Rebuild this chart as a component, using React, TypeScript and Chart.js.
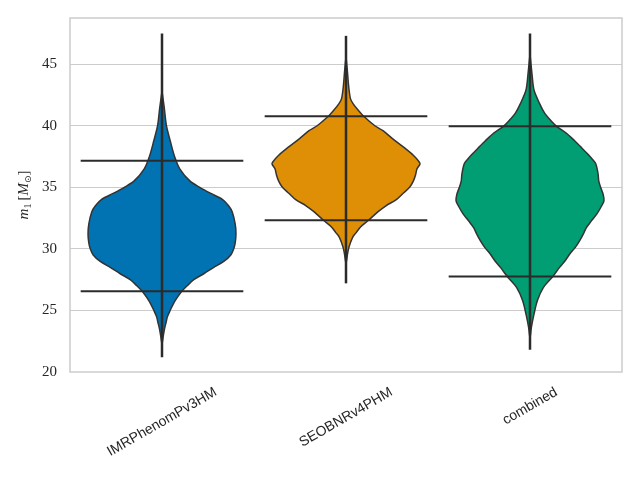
import React, { useEffect, useRef } from 'react';
import Chart from 'chart.js/auto';

// ---- data ----
const categories = ['IMRPhenomPv3HM', 'SEOBNRv4PHM', 'combined'];
const violinColors = ['#0173B2', '#DE8F05', '#029E73'];

// violin density profiles (m1 grid, relative density, max = 1)
const imrM1 = [42.8, 41.5, 40.0, 38.8, 37.5, 36.5, 35.5, 35.0, 34.5, 34.0, 33.5, 33.0, 32.0, 31.2, 30.5, 30.0, 29.5, 29.0, 28.5, 28.0, 27.5, 27.0, 26.5, 26.0, 25.5, 25.0, 24.5, 24.0, 23.5, 22.8, 22.3];
const imrDensity = [0, 0.03, 0.06, 0.11, 0.17, 0.24, 0.38, 0.51, 0.66, 0.82, 0.9, 0.95, 0.99, 1.0, 0.99, 0.97, 0.93, 0.84, 0.7, 0.57, 0.43, 0.34, 0.26, 0.2, 0.15, 0.11, 0.074, 0.054, 0.034, 0.014, 0];

const seobM1 = [45.6, 44.5, 43.2, 42.2, 41.8, 41.3, 40.77, 40.0, 39.6, 39.0, 38.3, 37.6, 37.06, 36.9, 36.5, 36.0, 35.5, 35.0, 34.5, 34.0, 33.5, 33.0, 32.3, 31.8, 31.3, 31.0, 30.5, 30.0, 29.5, 28.8];
const seobDensity = [0, 0.018, 0.036, 0.06, 0.095, 0.16, 0.24, 0.39, 0.5, 0.62, 0.77, 0.91, 0.99, 1.0, 0.96, 0.94, 0.91, 0.86, 0.77, 0.68, 0.54, 0.43, 0.3, 0.2, 0.135, 0.095, 0.06, 0.034, 0.018, 0];

const combM1 = [45.8, 44.2, 42.9, 41.8, 41.0, 40.5, 39.95, 39.4, 38.8, 38.2, 37.7, 37.3, 36.9, 36.1, 35.5, 35.0, 34.4, 33.9, 33.4, 32.8, 32.2, 31.7, 31.2, 30.65, 30.1, 29.6, 29.0, 28.5, 27.7, 26.85, 25.8, 24.7, 23.6, 22.8];
const combDensity = [0, 0.027, 0.054, 0.13, 0.2, 0.27, 0.36, 0.49, 0.6, 0.7, 0.78, 0.84, 0.89, 0.92, 0.93, 0.955, 0.99, 1.0, 0.96, 0.9, 0.82, 0.76, 0.72, 0.67, 0.61, 0.54, 0.47, 0.4, 0.3, 0.18, 0.1, 0.054, 0.018, 0];

const q05 = [26.55, 32.32, 27.76];
const q95 = [37.15, 40.77, 39.96];
const m1Min = [21.2, 27.2, 21.8];
const m1Max = [47.5, 47.3, 47.5];
const yTicks = [20, 25, 30, 35, 40, 45];

const profiles = [
  { m1: imrM1, d: imrDensity },
  { m1: seobM1, d: seobDensity },
  { m1: combM1, d: combDensity },
];

const VIOLIN_HALF = 0.402;
const QUANT_HALF = 0.442;
const LINE_COLOR = '#2b2b2b';
const TEXT_COLOR = '#262626';

function violinPoints(i: number, m1: number[], dens: number[]) {
  const right = m1.map((v, k) => ({ x: i + dens[k] * VIOLIN_HALF, y: v }));
  const left = m1
    .map((v, k) => ({ x: i - dens[k] * VIOLIN_HALF, y: v }))
    .reverse()
    .slice(1, -1);
  return [...right, ...left, right[0]];
}

const framePlugin = {
  id: 'frameAndLabels',
  afterDraw(chart: any) {
    const { ctx, chartArea, scales } = chart;
    const { left, right, top, bottom } = chartArea;
    ctx.save();
    // frame
    ctx.strokeStyle = '#cccccc';
    ctx.lineWidth = 1.5;
    ctx.strokeRect(left, top, right - left, bottom - top);

    // x labels, rotated 30 deg, bbox centred on tick, top aligned
    const fontSize = 14;
    ctx.font = `${fontSize}px "Liberation Sans"`;
    ctx.fillStyle = TEXT_COLOR;
    ctx.textAlign = 'center';
    ctx.textBaseline = 'middle';
    const ang = Math.PI / 6;
    categories.forEach((c, i) => {
      const px = scales.x.getPixelForValue(i);
      const w = ctx.measureText(c).width;
      const h = fontSize * 0.85;
      const bboxH = w * Math.sin(ang) + h * Math.cos(ang);
      const cy = bottom + 14 + bboxH / 2;
      ctx.save();
      ctx.translate(px, cy);
      ctx.rotate(-ang);
      ctx.fillText(c, 0, 0);
      ctx.restore();
    });

    // y title: m_1 [M_sun]
    const pieces = [
      { t: 'm', f: 'italic 15px "Liberation Serif"', dy: 0 },
      { t: '1', f: '10px "Liberation Serif"', dy: 3 },
      { t: '\u2009[', f: '15px "Liberation Serif"', dy: 0 },
      { t: 'M', f: 'italic 15px "Liberation Serif"', dy: 0 },
      { t: '\u2299', f: '9px "DejaVu Sans"', dy: 3 },
      { t: ']', f: '15px "Liberation Serif"', dy: 0 },
    ];
    let total = 0;
    const widths = pieces.map((p) => {
      ctx.font = p.f;
      const w = ctx.measureText(p.t).width;
      total += w;
      return w;
    });
    ctx.translate(28, (top + bottom) / 2);
    ctx.rotate(-Math.PI / 2);
    ctx.textAlign = 'left';
    ctx.textBaseline = 'alphabetic';
    let x = -total / 2;
    pieces.forEach((p, k) => {
      ctx.font = p.f;
      ctx.fillText(p.t, x, p.dy);
      x += widths[k];
    });
    ctx.restore();
  },
};

export default function App() {
  const ref = useRef<HTMLCanvasElement | null>(null);

  useEffect(() => {
    if (!ref.current) return;
    const datasets: any[] = [];
    profiles.forEach((p, i) => {
      datasets.push({
        data: violinPoints(i, p.m1, p.d),
        showLine: true,
        fill: 'shape',
        backgroundColor: violinColors[i],
        borderColor: '#333333',
        borderWidth: 1.5,
        pointRadius: 0,
        tension: 0.3,
        order: 2,
      });
    });
    categories.forEach((_, i) => {
      datasets.push({
        data: [
          { x: i, y: m1Min[i] },
          { x: i, y: m1Max[i] },
        ],
        showLine: true,
        fill: false,
        borderColor: LINE_COLOR,
        borderWidth: 2.5,
        pointRadius: 0,
        order: 0,
      });
      [q05[i], q95[i]].forEach((q) => {
        datasets.push({
          data: [
            { x: i - QUANT_HALF, y: q },
            { x: i + QUANT_HALF, y: q },
          ],
          showLine: true,
          fill: false,
          borderColor: LINE_COLOR,
          borderWidth: 2,
          pointRadius: 0,
          order: 0,
        });
      });
    });

    const chart = new Chart(ref.current, {
      type: 'scatter',
      data: { datasets },
      options: {
        animation: false,
        responsive: false,
        maintainAspectRatio: false,
        layout: { padding: { left: 0, top: 18, right: 18, bottom: 0 } },
        plugins: { legend: { display: false }, tooltip: { enabled: false } },
        scales: {
          x: {
            type: 'linear',
            min: -0.5,
            max: 2.5,
            grid: { display: false },
            border: { display: false },
            ticks: { display: false },
            afterFit: (s: any) => {
              s.height = 108;
              s.paddingLeft = 0;
              s.paddingRight = 0;
            },
          },
          y: {
            type: 'linear',
            min: 20,
            max: 48.75,
            border: { display: false },
            grid: {
              color: (c: any) => (c.tick && c.tick.value === 20 ? 'rgba(0,0,0,0)' : '#cccccc'),
              lineWidth: 1,
              drawTicks: false,
            },
            ticks: {
              stepSize: 5,
              padding: 13,
              color: TEXT_COLOR,
              font: { family: '"Liberation Serif"', size: 15 },
            },
            afterBuildTicks: (s: any) => {
              s.ticks = yTicks.map((v) => ({ value: v }));
            },
            afterFit: (s: any) => {
              s.width = 70;
              s.paddingTop = 0;
              s.paddingBottom = 0;
            },
          },
        },
      },
      plugins: [framePlugin],
    });
    return () => chart.destroy();
  }, []);

  return (
    <div style={{ position: 'absolute', left: 0, top: 0, width: 640, height: 480 }}>
      <canvas ref={ref} width={640} height={480} style={{ display: 'block' }} />
    </div>
  );
}
